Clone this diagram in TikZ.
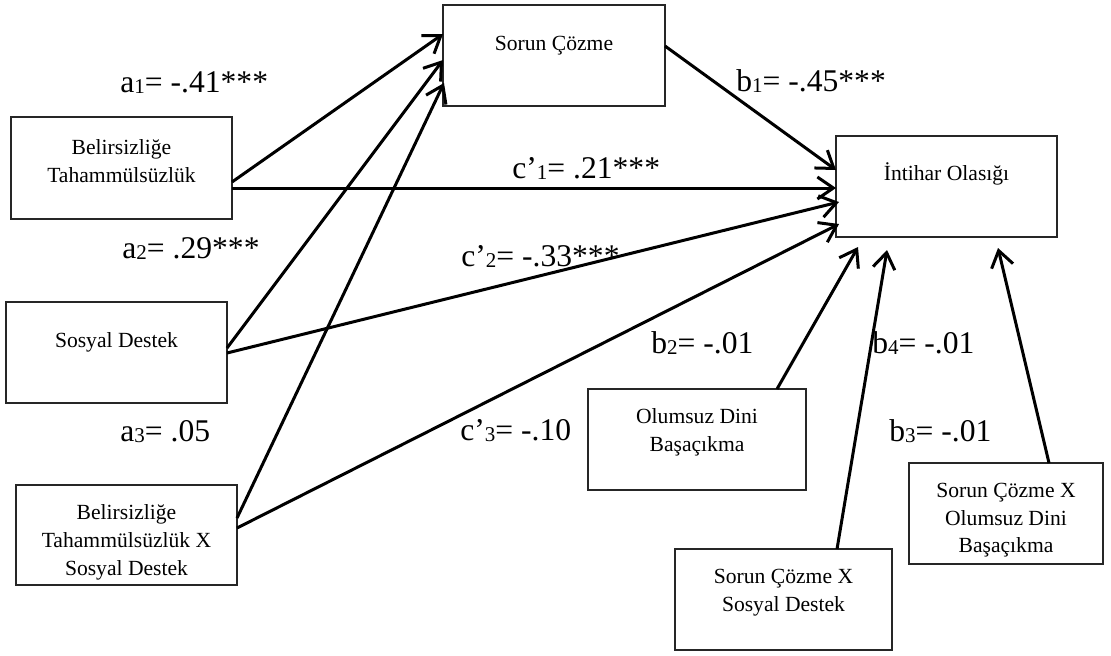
\documentclass[tikz,border=0pt]{standalone}
\usepackage{fontspec}
\setmainfont{Liberation Serif}
\usetikzlibrary{arrows.meta,calc}

% subscript index set slightly smaller, near the baseline
\newcommand{\idx}[1]{\raisebox{-0.8pt}{\fontsize{10.5}{12}\selectfont #1}}

\begin{document}
\begin{tikzpicture}[x=0.5pt,y=-0.5pt,
  box/.style={draw=black!85,line width=0.8pt,inner sep=0pt,outer sep=0pt},
  boxtext/.style={anchor=north,align=center,inner sep=0pt,
    font=\fontsize{10.8}{13.9}\selectfont,execute at begin node=\strut},
  coef/.style={anchor=base west,inner sep=0pt,font=\fontsize{15.8}{18}\selectfont},
  path/.style={line width=1.5pt,-{Straight Barb[length=8pt,width=11pt,line width=1.5pt]}}]

\useasboundingbox (0,0) rectangle (1111,655);

% ---- variable boxes
\node[box,minimum width=110.5pt,minimum height=51pt]   (bt) at (121.5,168)  {};
\node[box,minimum width=111pt,minimum height=50.5pt]   (sc) at (554,55.5)   {};
\node[box,minimum width=110.5pt,minimum height=50.5pt] (io) at (946.5,186.5){};
\node[box,minimum width=110.5pt,minimum height=50.5pt] (sd) at (116.5,352.5){};
\node[box,minimum width=110.5pt,minimum height=50pt]   (bx) at (126.5,535)  {};
\node[box,minimum width=109pt,minimum height=50.5pt]   (od) at (697,439.5)  {};
\node[box,minimum width=108.5pt,minimum height=50.5pt] (sx) at (783.5,599.5){};
\node[box,minimum width=97pt,minimum height=50.5pt]    (so) at (1006,513.5) {};

% ---- box texts, set in the upper part of each box
\node[boxtext] (bt-t) at ($(bt.north)+(0,22.5)$) {Belirsizliğe\\Tahammülsüzlük};
\node[boxtext] (sc-t) at ($(sc.north)+(0,25.5)$) {Sorun Çözme};
\node[boxtext] (io-t) at ($(io.north)+(0,24.5)$) {İntihar Olasığı};
\node[boxtext] (sd-t) at ($(sd.north)+(0,25.5)$) {Sosyal Destek};
\node[boxtext] (bx-t) at ($(bx.north)+(0,19.5)$) {Belirsizliğe\\Tahammülsüzlük X\\Sosyal Destek};
\node[boxtext] (od-t) at ($(od.north)+(0,19.5)$) {Olumsuz Dini\\Başaçıkma};
\node[boxtext] (sx-t) at ($(sx.north)+(0,19.5)$) {Sorun Çözme X\\Sosyal Destek};
\node[boxtext] (so-t) at ($(so.north)+(0,19.5)$) {Sorun Çözme X\\Olumsuz Dini\\Başaçıkma};

% ---- end points below the outcome box
\coordinate (io-b2) at ($(io.south west)+(22,10)$);
\coordinate (io-b4) at ($(io.south west)+(51,13)$);
\coordinate (io-b3) at ($(io.south west)+(162,11)$);

% ---- paths to the mediator
\draw[path] ($(bt.north east)+(0,65)$) -- ($(sc.north west)+(0,29)$);
\draw[path] ($(sd.north east)+(0,46)$) -- ($(sc.north west)+(0,55)$);
\draw[path] ($(bx.north east)+(0,33)$) -- ($(sc.north west)+(1,78)$);

% ---- paths to the outcome
\draw[path] ($(sc.north east)+(0,41)$) -- ($(io.north west)+(0,34)$);
\draw[path] ($(bt.north east)+(0,71)$) -- ($(io.north west)+(0,52)$);
\draw[path] ($(sd.north east)+(0,51)$) -- ($(io.north west)+(3,66)$);
\draw[path] ($(bx.north east)+(0,43)$) -- ($(io.north west)+(3,88)$);
\draw[path] ($(od.north west)+(189,0)$) -- (io-b2);
\draw[path] ($(sx.north west)+(162,0)$) -- (io-b4);
\draw[path] ($(so.north west)+(140,0)$) -- (io-b3);

% ---- coefficients
\node[coef] (la1) at (120,92)  {a\idx{1}= -.41***};
\node[coef] (la2) at (122,258) {a\idx{2}= .29***};
\node[coef] (la3) at (120,441) {a\idx{3}= .05};
\node[coef] (lc1) at (512,178) {c’\idx{1}= .21***};
\node[coef] (lc2) at (461,266) {c’\idx{2}= -.33***};
\node[coef] (lc3) at (460,440) {c’\idx{3}= -.10};
\node[coef] (lb1) at (736,91)  {b\idx{1}= -.45***};
\node[coef] (lb2) at (651,353) {b\idx{2}= -.01};
\node[coef] (lb4) at (872,353) {b\idx{4}= -.01};
\node[coef] (lb3) at (889,441) {b\idx{3}= -.01};

\end{tikzpicture}
\end{document}
